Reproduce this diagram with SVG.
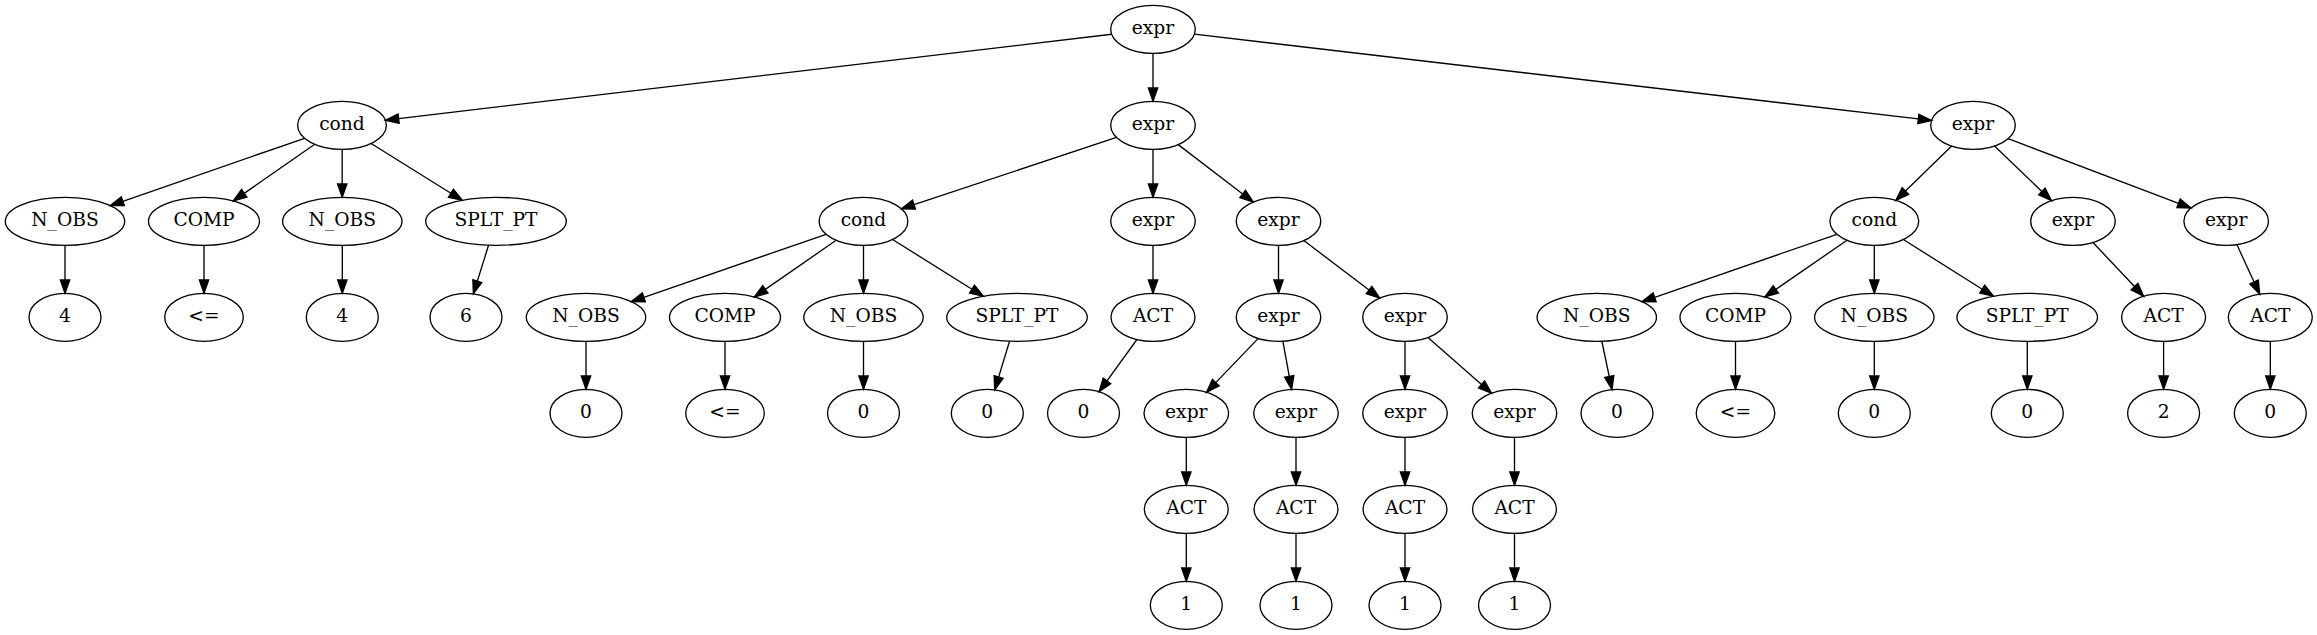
<svg xmlns="http://www.w3.org/2000/svg" width="2317" height="635" viewBox="0 0 2317 635">
<style>
.n ellipse{fill:none;stroke:#000;stroke-width:1.33}
.n text{font-family:"DejaVu Serif","Liberation Serif",serif;font-size:18.67px;text-anchor:middle;fill:#000}
.e line{stroke:#000;stroke-width:1.33;marker-end:url(#ah)}
</style>
<defs>
<marker id="ah" markerUnits="userSpaceOnUse" viewBox="0 -6 15 12" markerWidth="15" markerHeight="12" refX="0" refY="0" orient="auto" overflow="visible">
<path d="M0,-4.67 L13.33,0 L0,4.67 Z" fill="#000" stroke="#000" stroke-width="1.33"/>
</marker>
</defs>
<rect width="2317" height="635" fill="#fff"/>
<g id="edges" class="e">
<line x1="1111.6" y1="34.23" x2="398.61" y2="118.63"/>
<line x1="1153" y1="53.33" x2="1153" y2="88"/>
<line x1="1194.43" y1="34.18" x2="1918.33" y2="118.93"/>
<line x1="304.62" y1="138.28" x2="122.82" y2="201.29"/>
<line x1="314.76" y1="144.28" x2="244.24" y2="193.34"/>
<line x1="342.2" y1="149.33" x2="342.2" y2="184"/>
<line x1="371.08" y1="143.46" x2="450.92" y2="193.23"/>
<line x1="65" y1="245.33" x2="65" y2="280"/>
<line x1="204" y1="245.33" x2="204" y2="280"/>
<line x1="342.3" y1="245.33" x2="342.3" y2="280"/>
<line x1="488.54" y1="245.2" x2="477.32" y2="281.12"/>
<line x1="1116.48" y1="137.44" x2="914" y2="204.58"/>
<line x1="1153" y1="149.33" x2="1153" y2="184"/>
<line x1="1178.2" y1="144.61" x2="1242.71" y2="193.95"/>
<line x1="826.1" y1="234.27" x2="643.85" y2="297.32"/>
<line x1="836.2" y1="240.25" x2="765.33" y2="289.38"/>
<line x1="863.5" y1="245.33" x2="863.5" y2="280"/>
<line x1="892.53" y1="239.49" x2="972.02" y2="289.19"/>
<line x1="1153" y1="245.33" x2="1153" y2="280"/>
<line x1="1278.5" y1="245.33" x2="1278.5" y2="280"/>
<line x1="1303.83" y1="240.55" x2="1369.05" y2="290.05"/>
<line x1="586" y1="341.33" x2="586" y2="376"/>
<line x1="725" y1="341.33" x2="725" y2="376"/>
<line x1="863.5" y1="341.33" x2="863.5" y2="376"/>
<line x1="1009.54" y1="341.2" x2="998.62" y2="377.12"/>
<line x1="1136.94" y1="339.51" x2="1106.97" y2="380.92"/>
<line x1="1258.26" y1="338.4" x2="1215.77" y2="382.65"/>
<line x1="1282.85" y1="341.2" x2="1289.26" y2="376.35"/>
<line x1="1405" y1="341.33" x2="1405" y2="376"/>
<line x1="1427.98" y1="337.48" x2="1481.5" y2="384.39"/>
<line x1="1186.3" y1="437.33" x2="1186.3" y2="472"/>
<line x1="1296" y1="437.33" x2="1296" y2="472"/>
<line x1="1405" y1="437.33" x2="1405" y2="472"/>
<line x1="1514.5" y1="437.33" x2="1514.5" y2="472"/>
<line x1="1186.3" y1="533.33" x2="1186.3" y2="568"/>
<line x1="1296" y1="533.33" x2="1296" y2="568"/>
<line x1="1405" y1="533.33" x2="1405" y2="568"/>
<line x1="1514.5" y1="533.33" x2="1514.5" y2="568"/>
<line x1="1951.69" y1="146.06" x2="1905.43" y2="191.06"/>
<line x1="1994.52" y1="145.99" x2="2041.86" y2="191.44"/>
<line x1="2008.17" y1="138.66" x2="2178.57" y2="203.27"/>
<line x1="1836.9" y1="234.27" x2="1654.65" y2="297.32"/>
<line x1="1847" y1="240.25" x2="1775.83" y2="289.38"/>
<line x1="1874.3" y1="245.33" x2="1874.3" y2="280"/>
<line x1="1903.33" y1="239.49" x2="1982.22" y2="289.19"/>
<line x1="2092.97" y1="242.49" x2="2134.51" y2="286.52"/>
<line x1="2236.87" y1="244.55" x2="2254.08" y2="282.01"/>
<line x1="1601.83" y1="341.24" x2="1609.26" y2="376.52"/>
<line x1="1735.5" y1="341.33" x2="1735.5" y2="376"/>
<line x1="1874.3" y1="341.33" x2="1874.3" y2="376"/>
<line x1="2027.3" y1="341.33" x2="2027.3" y2="376"/>
<line x1="2163.6" y1="341.33" x2="2163.6" y2="376"/>
<line x1="2270.3" y1="341.33" x2="2270.3" y2="376"/>
</g>
<g id="n0" class="n"><ellipse cx="1153" cy="29.33" rx="42.3" ry="24"/><text x="1153" y="34.33">expr</text></g>
<g id="n1" class="n"><ellipse cx="342" cy="125.33" rx="44.4" ry="24"/><text x="342" y="130.33">cond</text></g>
<g id="n2" class="n"><ellipse cx="1153" cy="125.33" rx="42.3" ry="24"/><text x="1153" y="130.33">expr</text></g>
<g id="n3" class="n"><ellipse cx="1973" cy="125.33" rx="42.3" ry="24"/><text x="1973" y="130.33">expr</text></g>
<g id="n4" class="n"><ellipse cx="65" cy="221.33" rx="59.7" ry="24"/><text x="65" y="226.33">N_OBS</text></g>
<g id="n5" class="n"><ellipse cx="204" cy="221.33" rx="55.5" ry="24"/><text x="204" y="226.33">COMP</text></g>
<g id="n6" class="n"><ellipse cx="342.3" cy="221.33" rx="59.7" ry="24"/><text x="342.3" y="226.33">N_OBS</text></g>
<g id="n7" class="n"><ellipse cx="496" cy="221.33" rx="70.3" ry="24"/><text x="496" y="226.33">SPLT_PT</text></g>
<g id="n8" class="n"><ellipse cx="65" cy="317.33" rx="36" ry="24"/><text x="65" y="322.33">4</text></g>
<g id="n9" class="n"><ellipse cx="204" cy="317.33" rx="39.3" ry="24"/><text x="204" y="322.33">&lt;=</text></g>
<g id="n10" class="n"><ellipse cx="342.3" cy="317.33" rx="36" ry="24"/><text x="342.3" y="322.33">4</text></g>
<g id="n11" class="n"><ellipse cx="466" cy="317.33" rx="36" ry="24"/><text x="466" y="322.33">6</text></g>
<g id="n12" class="n"><ellipse cx="863.5" cy="221.33" rx="44.4" ry="24"/><text x="863.5" y="226.33">cond</text></g>
<g id="n13" class="n"><ellipse cx="1153" cy="221.33" rx="42.3" ry="24"/><text x="1153" y="226.33">expr</text></g>
<g id="n14" class="n"><ellipse cx="1278.5" cy="221.33" rx="42.3" ry="24"/><text x="1278.5" y="226.33">expr</text></g>
<g id="n15" class="n"><ellipse cx="586" cy="317.33" rx="59.7" ry="24"/><text x="586" y="322.33">N_OBS</text></g>
<g id="n16" class="n"><ellipse cx="725" cy="317.33" rx="55.5" ry="24"/><text x="725" y="322.33">COMP</text></g>
<g id="n17" class="n"><ellipse cx="863.5" cy="317.33" rx="59.7" ry="24"/><text x="863.5" y="322.33">N_OBS</text></g>
<g id="n18" class="n"><ellipse cx="1017" cy="317.33" rx="70.3" ry="24"/><text x="1017" y="322.33">SPLT_PT</text></g>
<g id="n19" class="n"><ellipse cx="586" cy="413.33" rx="36" ry="24"/><text x="586" y="418.33">0</text></g>
<g id="n20" class="n"><ellipse cx="725" cy="413.33" rx="39.3" ry="24"/><text x="725" y="418.33">&lt;=</text></g>
<g id="n21" class="n"><ellipse cx="863.5" cy="413.33" rx="36" ry="24"/><text x="863.5" y="418.33">0</text></g>
<g id="n22" class="n"><ellipse cx="987.3" cy="413.33" rx="36" ry="24"/><text x="987.3" y="418.33">0</text></g>
<g id="n23" class="n"><ellipse cx="1153" cy="317.33" rx="42" ry="24"/><text x="1153" y="322.33">ACT</text></g>
<g id="n24" class="n"><ellipse cx="1083.5" cy="413.33" rx="36" ry="24"/><text x="1083.5" y="418.33">0</text></g>
<g id="n25" class="n"><ellipse cx="1278.5" cy="317.33" rx="42.3" ry="24"/><text x="1278.5" y="322.33">expr</text></g>
<g id="n26" class="n"><ellipse cx="1405" cy="317.33" rx="42.3" ry="24"/><text x="1405" y="322.33">expr</text></g>
<g id="n27" class="n"><ellipse cx="1186.3" cy="413.33" rx="42.3" ry="24"/><text x="1186.3" y="418.33">expr</text></g>
<g id="n28" class="n"><ellipse cx="1296" cy="413.33" rx="42.3" ry="24"/><text x="1296" y="418.33">expr</text></g>
<g id="n29" class="n"><ellipse cx="1405" cy="413.33" rx="42.3" ry="24"/><text x="1405" y="418.33">expr</text></g>
<g id="n30" class="n"><ellipse cx="1514.5" cy="413.33" rx="42.3" ry="24"/><text x="1514.5" y="418.33">expr</text></g>
<g id="n31" class="n"><ellipse cx="1186.3" cy="509.33" rx="42" ry="24"/><text x="1186.3" y="514.33">ACT</text></g>
<g id="n32" class="n"><ellipse cx="1296" cy="509.33" rx="42" ry="24"/><text x="1296" y="514.33">ACT</text></g>
<g id="n33" class="n"><ellipse cx="1405" cy="509.33" rx="42" ry="24"/><text x="1405" y="514.33">ACT</text></g>
<g id="n34" class="n"><ellipse cx="1514.5" cy="509.33" rx="42" ry="24"/><text x="1514.5" y="514.33">ACT</text></g>
<g id="n35" class="n"><ellipse cx="1186.3" cy="605.33" rx="36" ry="24"/><text x="1186.3" y="610.33">1</text></g>
<g id="n36" class="n"><ellipse cx="1296" cy="605.33" rx="36" ry="24"/><text x="1296" y="610.33">1</text></g>
<g id="n37" class="n"><ellipse cx="1405" cy="605.33" rx="36" ry="24"/><text x="1405" y="610.33">1</text></g>
<g id="n38" class="n"><ellipse cx="1514.5" cy="605.33" rx="36" ry="24"/><text x="1514.5" y="610.33">1</text></g>
<g id="n39" class="n"><ellipse cx="1874.3" cy="221.33" rx="44.4" ry="24"/><text x="1874.3" y="226.33">cond</text></g>
<g id="n40" class="n"><ellipse cx="2073" cy="221.33" rx="42.3" ry="24"/><text x="2073" y="226.33">expr</text></g>
<g id="n41" class="n"><ellipse cx="2226.2" cy="221.33" rx="42.3" ry="24"/><text x="2226.2" y="226.33">expr</text></g>
<g id="n42" class="n"><ellipse cx="1596.8" cy="317.33" rx="59.7" ry="24"/><text x="1596.8" y="322.33">N_OBS</text></g>
<g id="n43" class="n"><ellipse cx="1735.5" cy="317.33" rx="55.5" ry="24"/><text x="1735.5" y="322.33">COMP</text></g>
<g id="n44" class="n"><ellipse cx="1874.3" cy="317.33" rx="59.7" ry="24"/><text x="1874.3" y="322.33">N_OBS</text></g>
<g id="n45" class="n"><ellipse cx="2027.2" cy="317.33" rx="70.3" ry="24"/><text x="2027.2" y="322.33">SPLT_PT</text></g>
<g id="n46" class="n"><ellipse cx="1617" cy="413.33" rx="36" ry="24"/><text x="1617" y="418.33">0</text></g>
<g id="n47" class="n"><ellipse cx="1735.5" cy="413.33" rx="39.3" ry="24"/><text x="1735.5" y="418.33">&lt;=</text></g>
<g id="n48" class="n"><ellipse cx="1874.3" cy="413.33" rx="36" ry="24"/><text x="1874.3" y="418.33">0</text></g>
<g id="n49" class="n"><ellipse cx="2027.3" cy="413.33" rx="36" ry="24"/><text x="2027.3" y="418.33">0</text></g>
<g id="n50" class="n"><ellipse cx="2163.6" cy="317.33" rx="42" ry="24"/><text x="2163.6" y="322.33">ACT</text></g>
<g id="n51" class="n"><ellipse cx="2270.3" cy="317.33" rx="42" ry="24"/><text x="2270.3" y="322.33">ACT</text></g>
<g id="n52" class="n"><ellipse cx="2163.6" cy="413.33" rx="36" ry="24"/><text x="2163.6" y="418.33">2</text></g>
<g id="n53" class="n"><ellipse cx="2270.3" cy="413.33" rx="36" ry="24"/><text x="2270.3" y="418.33">0</text></g>
</svg>
